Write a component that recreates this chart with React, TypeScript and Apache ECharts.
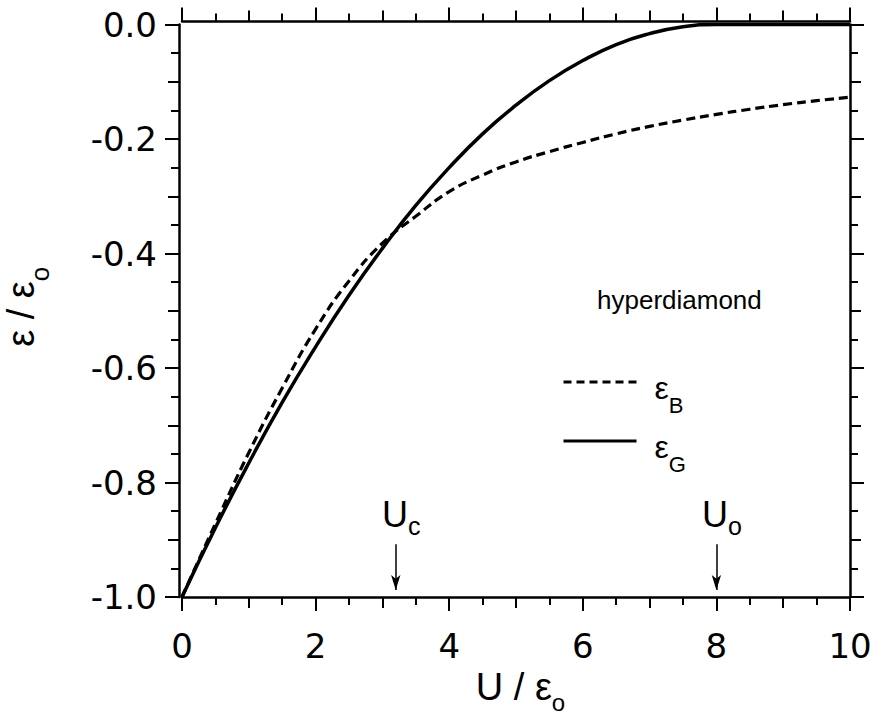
import { useEffect, useRef } from 'react';
import * as echarts from 'echarts';

// ---- data ----
const U = [0, 0.5, 1, 1.5, 2, 2.5, 3, 3.5, 4, 4.5, 5, 5.5, 6, 6.5, 7, 7.5, 8, 8.5, 9, 9.5, 10];
const epsB = [-1.0, -0.872, -0.748, -0.635, -0.532, -0.448, -0.382, -0.335, -0.292, -0.263, -0.24, -0.222, -0.206, -0.191, -0.178, -0.167, -0.157, -0.148, -0.14, -0.133, -0.127];
const epsG = [-1.0, -0.879, -0.766, -0.66, -0.563, -0.473, -0.391, -0.316, -0.25, -0.191, -0.141, -0.098, -0.063, -0.035, -0.016, -0.004, 0, 0, 0, 0, 0];
const seriesNames = ['εB', 'εG'];
const markerSubs = ['c', 'o'];
const markerU = [3.2, 8];
const arrowFrom = -0.908;
const arrowTo = -0.9878;
const annotation = 'hyperdiamond';

const SANS = '"Liberation Sans", Arial, Helvetica, sans-serif';
const TICKFONT = '"DejaVu Sans", "Liberation Sans", sans-serif';
const BLACK = '#000';
const K = 0.3465; // central -> alphabetic baseline offset (em)

// main text top-aligned in a line of height m; subscript lowered so that its
// baseline sits `drop` px under the main baseline
function subRich(m: number, s: number, drop: number, padLeft = 0, mainTop = 0) {
  const P = mainTop + drop + (m - s) * (0.5 + K);
  return {
    m: { fontSize: m, lineHeight: m, verticalAlign: 'top', fontFamily: SANS, color: BLACK, padding: [mainTop, 0, 0, padLeft] },
    s: { fontSize: s, lineHeight: s, verticalAlign: 'top', fontFamily: SANS, color: BLACK, padding: [P, 0, 0, 0] },
  };
}

function xAxes(position: 'bottom' | 'top', offset: number, withLabels: boolean) {
  return [
    {
      type: 'value', min: 0, max: 10, interval: 2, position, offset,
      axisLine: { show: true, onZero: false, lineStyle: { color: BLACK, width: 2.5 } },
      axisTick: { show: true, inside: false, length: 14, lineStyle: { color: BLACK, width: 2 } },
      minorTick: { show: true, splitNumber: 4, length: 8, lineStyle: { color: BLACK, width: 2 } },
      axisLabel: { show: withLabels, margin: 32, fontSize: 34, fontFamily: TICKFONT, color: BLACK },
      splitLine: { show: false }, minorSplitLine: { show: false },
      ...(withLabels
        ? { name: '{m|U / ε}{s|o}', nameLocation: 'middle', nameGap: 66, nameTextStyle: { rich: subRich(38, 24, 11, 9) } }
        : {}),
    },
    {
      type: 'value', min: 0, max: 10, interval: 1, position, offset,
      axisLine: { show: false, onZero: false },
      axisTick: { show: true, inside: false, length: 11, lineStyle: { color: BLACK, width: 2 } },
      axisLabel: { show: false }, splitLine: { show: false },
    },
  ];
}

function yAxes(position: 'left' | 'right', offset: number, withLabels: boolean) {
  return [
    {
      type: 'value', min: -1, max: 0, interval: 0.2, position, offset,
      axisLine: { show: true, onZero: false, lineStyle: { color: BLACK, width: 2.5 } },
      axisTick: { show: true, inside: false, length: 14, lineStyle: { color: BLACK, width: 2 } },
      minorTick: { show: true, splitNumber: 4, length: 8, lineStyle: { color: BLACK, width: 2 } },
      axisLabel: {
        show: withLabels, margin: 22, fontSize: 34, fontFamily: TICKFONT, color: BLACK,
        formatter: (v: number) => (Math.abs(v) < 1e-9 ? '0.0' : v.toFixed(1)),
      },
      splitLine: { show: false }, minorSplitLine: { show: false },
      ...(withLabels
        ? { name: '{m|ε / ε}{s|o}', nameLocation: 'middle', nameRotate: 90, nameGap: 139, nameTextStyle: { rich: subRich(38, 26, 15, 8) } }
        : {}),
    },
    {
      type: 'value', min: -1, max: 0, interval: 0.1, position, offset,
      axisLine: { show: false, onZero: false },
      axisTick: { show: true, inside: false, length: 11, lineStyle: { color: BLACK, width: 2 } },
      axisLabel: { show: false }, splitLine: { show: false },
    },
  ];
}

const LEGEND_MAIN = 32;
const legendRich = subRich(LEGEND_MAIN, 22, 15, 13, 5.5);

function legendFor(name: string, lineY: number, dash: any) {
  return {
    data: [name], orient: 'vertical', left: 562, top: lineY - LEGEND_MAIN / 2, padding: 0,
    itemWidth: 73, itemHeight: 14, selectedMode: false,
    itemStyle: { opacity: 0 },
    lineStyle: { width: 3, type: dash, color: BLACK },
    formatter: (n: string) => `{m|ε}{s|${n.slice(1)}}`,
    textStyle: { rich: legendRich },
  };
}

export default function App() {
  const ref = useRef<HTMLDivElement>(null);
  useEffect(() => {
    if (!ref.current) return;
    const chart = echarts.init(ref.current, null, { renderer: 'svg' });
    const option: any = {
      animation: false,
      backgroundColor: '#fff',
      grid: { left: 182, right: 27, top: 24.5, bottom: 118, containLabel: false, outerBoundsMode: 'none' },
      xAxis: [...xAxes('bottom', 0, true), ...xAxes('top', 3, false)],
      yAxis: [...yAxes('left', 3, true), ...yAxes('right', 0, false)],
      legend: [legendFor(seriesNames[0], 382, [8, 5]), legendFor(seriesNames[1], 441, 'solid')],
      graphic: [
        {
          type: 'text', left: 597, top: 287,
          style: { text: annotation, fontSize: 26, fontFamily: SANS, fill: BLACK },
        },
      ],
      series: [
        {
          name: seriesNames[0], type: 'line', xAxisIndex: 0, yAxisIndex: 0,
          data: U.map((u, i) => [u, epsB[i]]),
          symbol: 'none', smooth: true,
          lineStyle: { color: BLACK, width: 3.2, type: [9, 5] },
          itemStyle: { color: BLACK },
        },
        {
          name: seriesNames[1], type: 'line', xAxisIndex: 0, yAxisIndex: 0,
          data: U.map((u, i) => [u, epsG[i]]),
          symbol: 'none', smooth: true,
          lineStyle: { color: BLACK, width: 3.5, type: 'solid' },
          itemStyle: { color: BLACK },
          markLine: {
            silent: true, animation: false,
            symbol: ['none', 'arrow'], symbolSize: [7, 15],
            lineStyle: { color: BLACK, width: 1.5, type: 'solid' },
            label: {
              show: true, position: 'start', distance: 12,
              formatter: (p: any) => `{m|U}{s|${p.name}}`,
              rich: subRich(36, 25, 8, 11),
            },
            emphasis: { disabled: true },
            data: markerU.map((u, i) => [
              { name: markerSubs[i], coord: [u, arrowFrom] },
              { coord: [u, arrowTo] },
            ]),
          },
        },
      ],
    };
    chart.setOption(option);
    return () => chart.dispose();
  }, []);
  return <div ref={ref} style={{ position: 'absolute', left: 0, top: 0, width: 877, height: 715 }} />;
}
